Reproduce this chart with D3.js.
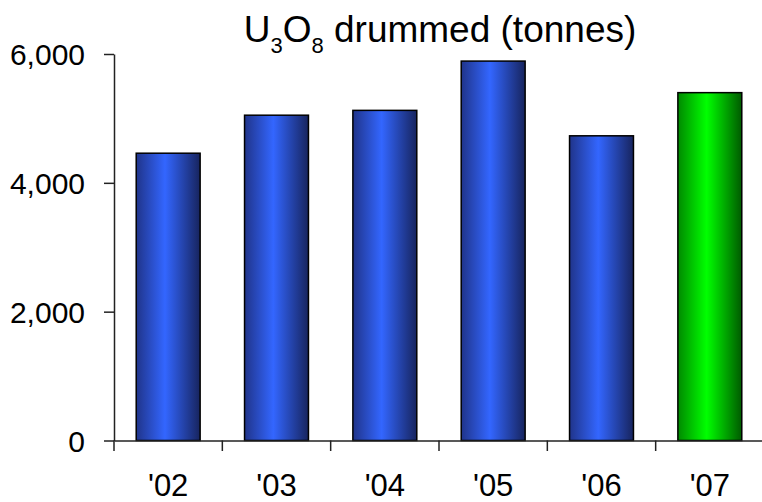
<!DOCTYPE html>
<html><head><meta charset="utf-8">
<script src="https://cdn.jsdelivr.net/npm/d3@7"></script>
<style>
html,body{margin:0;padding:0;background:#fff;}
text{font-family:"Liberation Sans",Arial,sans-serif;fill:#000;}
</style></head>
<body>
<svg id="chart" width="762" height="502"></svg>
<script>
const categories = ["'02","'03","'04","'05","'06","'07"];
const values = [4460, 5050, 5125, 5890, 4730, 5400];
const highlight = [false, false, false, false, false, true];
const yTicks = [0, 2000, 4000, 6000];

const svg = d3.select("#chart");
const defs = svg.append("defs");
function grad(id, c0, c1, c2){
  const g = defs.append("linearGradient").attr("id", id).attr("x1","0").attr("x2","1").attr("y1","0").attr("y2","0");
  g.append("stop").attr("offset","0%").attr("stop-color",c0);
  g.append("stop").attr("offset","45%").attr("stop-color",c1);
  g.append("stop").attr("offset","100%").attr("stop-color",c2);
}
grad("gBlue", "#20348a", "#3366ff", "#17245e");
grad("gGreen", "#008a00", "#00ff00", "#005a00");

const x = d3.scaleBand().domain(categories).range([114, 764]).paddingInner(0).paddingOuter(0);
const y = d3.scaleLinear().domain([0, 6000]).range([440.5, 54]);
const bw = x.bandwidth() * 0.59;

// bars
svg.selectAll("rect.bar").data(categories).enter().append("rect")
  .attr("class","bar")
  .attr("x", d => x(d) + (x.bandwidth() - bw) / 2)
  .attr("y", (d,i) => y(values[i]))
  .attr("width", bw)
  .attr("height", (d,i) => y(0) - y(values[i]))
  .attr("fill", (d,i) => highlight[i] ? "url(#gGreen)" : "url(#gBlue)")
  .attr("stroke", "#000")
  .attr("stroke-width", 1.5);

// y axis
const yAxis = d3.axisLeft(y).tickValues(yTicks).tickFormat(d3.format(",")).tickSizeInner(10).tickSizeOuter(0).tickPadding(19);
const gy = svg.append("g").attr("transform","translate(114,0)").call(yAxis);
gy.select(".domain").attr("stroke","#222").attr("stroke-width",1.5);
gy.selectAll(".tick line").attr("stroke","#222").attr("stroke-width",1.5);
gy.selectAll(".tick text").style("font-size","30px").attr("dy","0.36em");

// x axis
const xAxis = d3.axisBottom(x).tickSizeInner(0).tickSizeOuter(0).tickPadding(0);
const gx = svg.append("g").attr("transform","translate(0,440.5)").call(xAxis);
gx.select(".domain").attr("stroke","#222").attr("stroke-width",1.5);
gx.selectAll(".tick text").style("font-size","31px").attr("y", 55).attr("dy","0");
// category boundary ticks
gx.selectAll("line.sep").data(categories).enter().append("line")
  .attr("class","sep")
  .attr("x1", d => x(d)).attr("x2", d => x(d))
  .attr("y1", 0).attr("y2", 10.5)
  .attr("stroke","#222").attr("stroke-width",1.5);

// title
const t = svg.append("text").attr("x", 440).attr("y", 41.5).attr("text-anchor","middle").style("font-size","37px");
t.append("tspan").text("U");
t.append("tspan").text("3").style("font-size","22px").attr("dy", 11);
t.append("tspan").text("O").attr("dy", -11);
t.append("tspan").text("8").style("font-size","22px").attr("dy", 11);
t.append("tspan").text(" drummed (tonnes)").attr("dy", -11);
</script>
</body></html>
